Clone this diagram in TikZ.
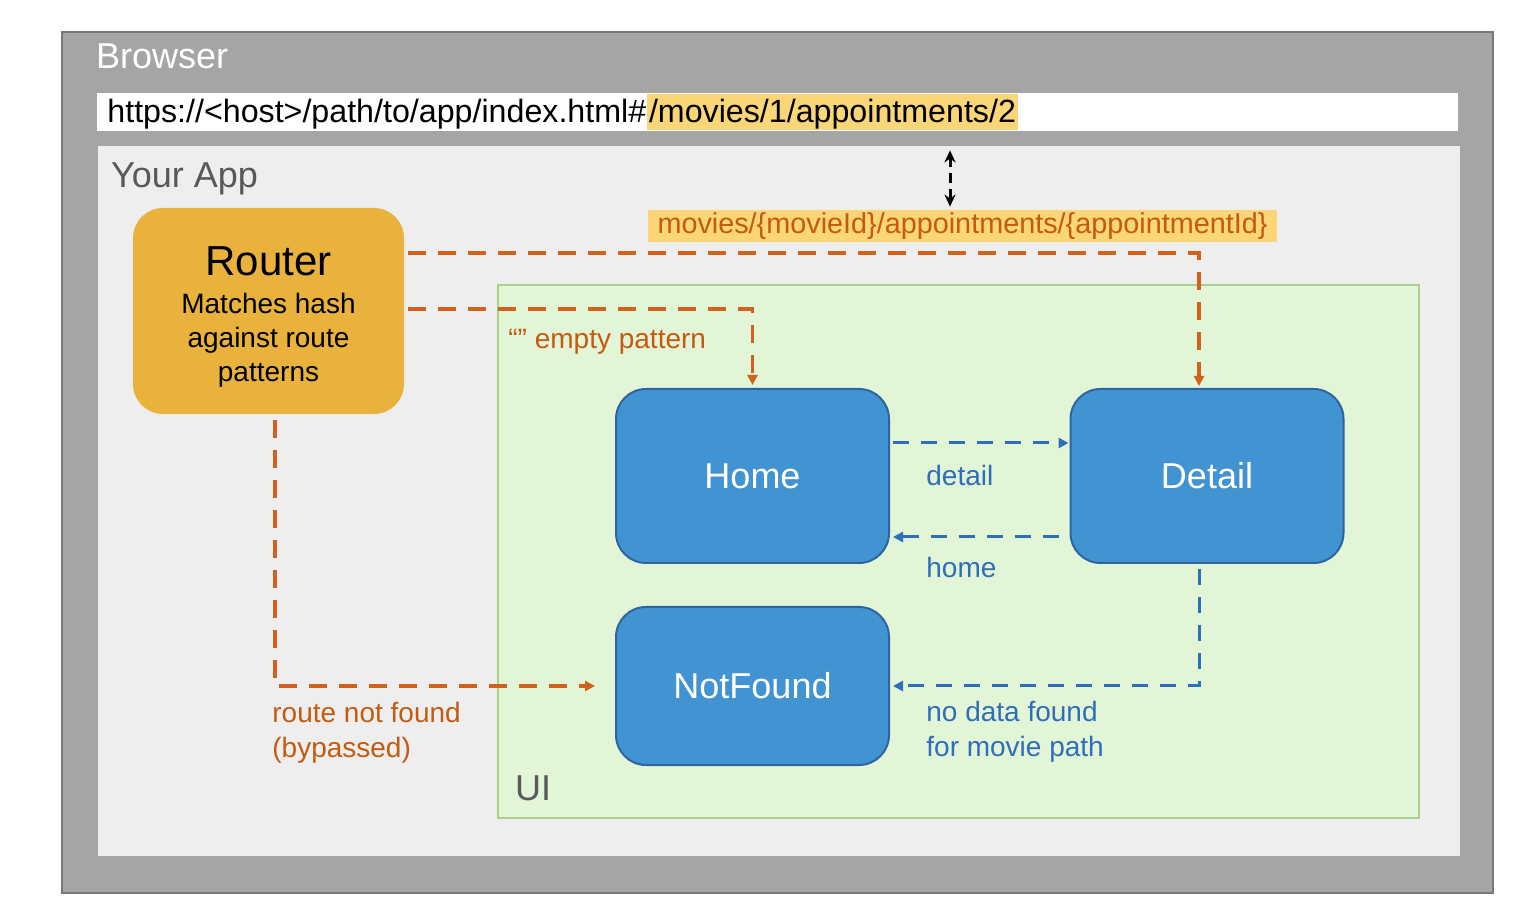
\documentclass[tikz,border=0pt]{standalone}
\usepackage{fontspec}
\setmainfont{Liberation Sans}
\usetikzlibrary{arrows.meta,positioning,calc}
\definecolor{frame}{RGB}{165,165,165}
\definecolor{frameline}{RGB}{120,120,120}
\definecolor{appbg}{RGB}{238,238,238}
\definecolor{hilite}{RGB}{250,214,120}
\definecolor{gold}{RGB}{233,178,60}
\definecolor{rust}{RGB}{208,98,30}
\definecolor{rusttext}{RGB}{197,90,17}
\definecolor{uibg}{RGB}{226,245,214}
\definecolor{uiline}{RGB}{169,209,142}
\definecolor{boxblue}{RGB}{66,147,210}
\definecolor{boxline}{RGB}{46,100,160}
\definecolor{linkblue}{RGB}{46,110,186}
\definecolor{darkgray}{RGB}{89,89,89}
\tikzset{
  heading/.style={font=\fontsize{18}{22}\selectfont,anchor=base west},
  viewbox/.style={draw=boxline,line width=1pt,fill=boxblue,rounded corners=15pt,minimum width=136.5pt,text=white,font=\fontsize{18}{22}\selectfont},
  routerbox/.style={fill=gold,rounded corners=15pt,minimum width=135.5pt,minimum height=103pt,align=center,font=\fontsize{14}{17}\selectfont},
  routeline/.style={draw=rust,line width=1.6pt,dash pattern=on 9pt off 6pt,-{Triangle[length=5pt,width=5pt]}},
  navline/.style={draw=linkblue,line width=1.5pt,dash pattern=on 8pt off 6pt,-{Triangle[length=5pt,width=5pt]}},
  sync/.style={draw=black,line width=1.5pt,dash pattern=on 5pt off 3pt,{Stealth[length=6pt,width=5.5pt]}-{Stealth[length=6pt,width=5.5pt]}},
  rlab/.style={font=\fontsize{14}{17.5}\selectfont,text=rusttext,anchor=west,align=left,inner sep=0},
  blab/.style={font=\fontsize{14}{17.5}\selectfont,text=linkblue,anchor=west,align=left,inner sep=0}
}
\begin{document}
\begin{tikzpicture}[x=0.5pt,y=-0.5pt]
  \useasboundingbox (0,0) rectangle (1532,924);
  % browser window
  \filldraw[fill=frame,draw=frameline,line width=0.8pt] (62,32) rectangle (1493,893);
  \node[heading,text=white] (browser) at (89,69) {Browser};
  \node[fill=white,minimum width=680.5pt,minimum height=19pt,inner sep=0] (url) at (777.5,112) {};
  \node[anchor=base west,inner sep=0,font=\fontsize{16.1}{18}\selectfont] (host) at (107,123) {https://<host>/path/to/app/index.html\#};
  \node[anchor=base west,fill=hilite,inner xsep=1pt,inner ysep=0pt,text height=14.5pt,text depth=3.5pt,font=\fontsize{16.1}{18}\selectfont] (hash) at (host.base east) {/movies/1/appointments/2};

  % app and ui areas
  \fill[appbg] (98,146) rectangle (1460,856);
  \node[heading,text=darkgray] (app) at (104,188) {Your App};
  \filldraw[fill=uibg,draw=uiline,line width=0.8pt] (498,285) rectangle (1419,818);
  \node[heading,text=darkgray] (ui) at (508,800) {UI};

  \node[fill=hilite,minimum width=314.5pt,minimum height=16pt,inner sep=0,text=rusttext,font=\fontsize{14.4}{17}\selectfont] (pattern) at (962.5,226) {movies/\{movieId\}/appointments/\{appointmentId\}};
  \coordinate (synclow) at ($(pattern.north)+(-12.5,0)$);
  \draw[sync,shorten <=1.5pt,shorten >=9.5pt] (synclow) -- (synclow |- url.south);

  \node[routerbox] (router) at (268.5,311) {{\fontsize{21}{25}\selectfont\rule{0pt}{20.5pt}Router}\\[2pt]Matches hash\\against route\\patterns};
  \node[viewbox,minimum height=87pt] (home) at (752.5,476) {Home};
  \node[viewbox,minimum height=87pt] (detail) at (1207,476) {Detail};
  \node[viewbox,minimum height=79pt] (notfound) at (752.5,686) {NotFound};
  \coordinate (dtop) at ($(detail.north)+(-8,0)$);
  \coordinate (dbot) at ($(detail.south)+(-8,0)$);

  % routes from the router
  \draw[routeline,shorten >=1pt] ($(router.east)+(4,-58)$) -| (dtop);
  \draw[routeline,shorten >=1.5pt] ($(router.east)+(4,-2)$) -| (home.north);
  \draw[routeline,shorten >=10pt] ($(router.south)+(6.5,6)$) |- (notfound.west);

  % navigation between views
  \draw[navline,shorten <=1.5pt,shorten >=0.5pt] ([yshift=16.5pt]home.east) -- ([yshift=16.5pt]detail.west);
  \draw[navline,shorten <=5.5pt,shorten >=1.5pt] ([yshift=-30.5pt]detail.west) -- ([yshift=-30.5pt]home.east);
  \draw[navline,shorten <=2.5pt,shorten >=1.5pt] (dbot) |- (notfound.east);

  \node[rlab] (emptylab) at (508,342) {“” empty pattern};
  \node[rlab] (bypass) at (272,733) {route not found\\(bypassed)};
  \node[blab] (detlab) at (926,475) {detail};
  \node[blab] (homelab) at (926,567) {home};
  \node[blab] (nodata) at (926,732) {no data found\\for movie path};
\end{tikzpicture}
\end{document}
